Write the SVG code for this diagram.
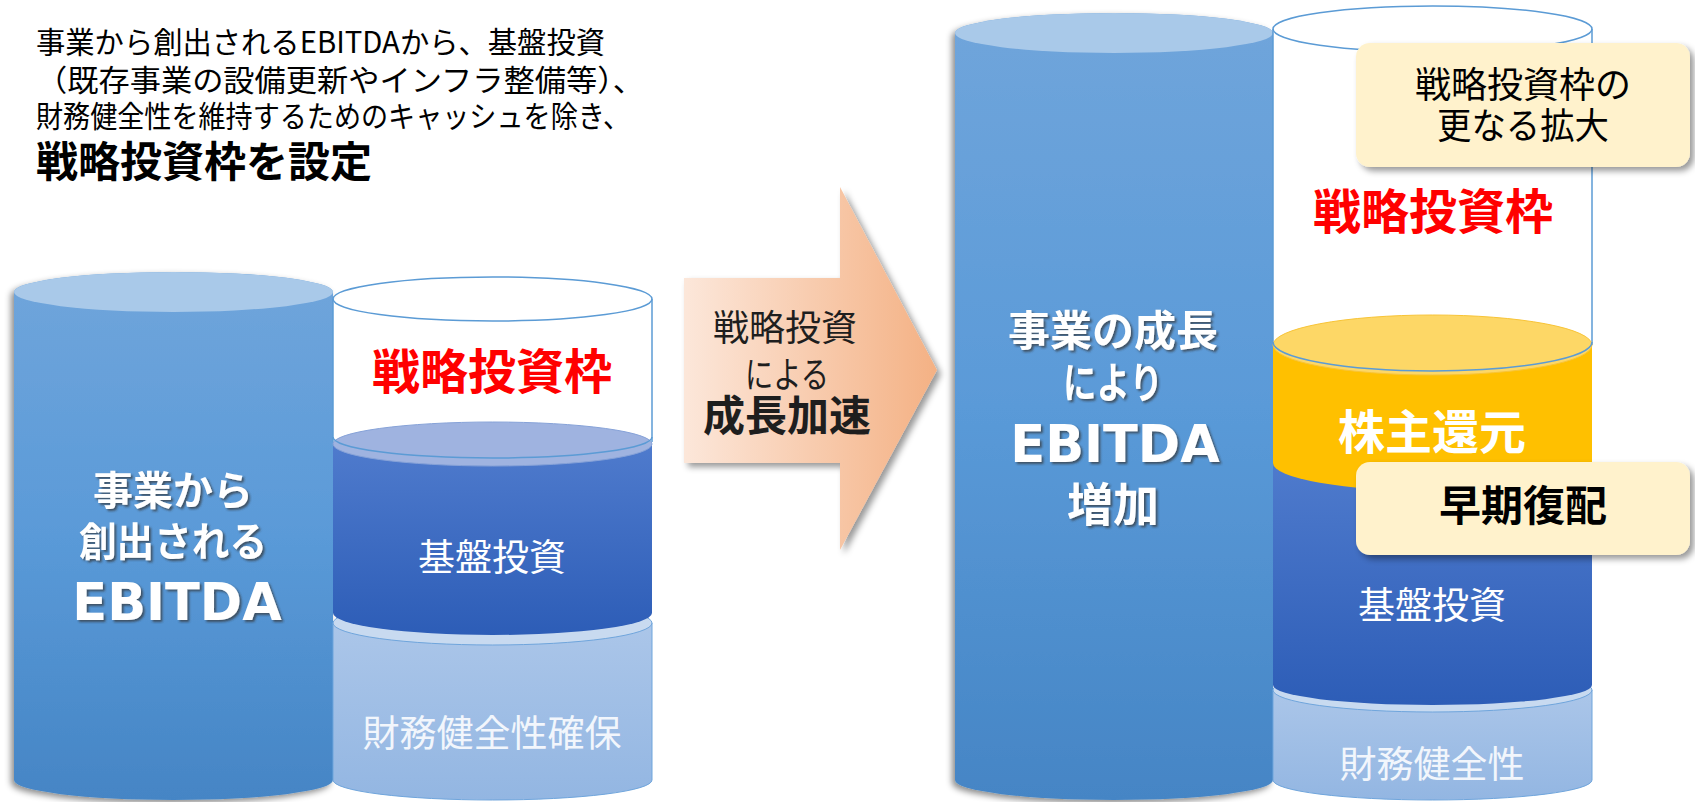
<svg xmlns="http://www.w3.org/2000/svg" width="1695" height="802" viewBox="0 0 1695 802">
<defs>
<style>
.jp{font-family:"Noto Sans CJK JP","Noto Sans",sans-serif;}
.b{font-weight:bold;}
.lat{font-family:"DejaVu Sans","Liberation Sans",sans-serif;font-weight:bold;}
.wl{fill:#ffffff;}
.red{fill:#ff0000;}
.blk{fill:#000000;}
.soft{fill:#f2f6fc;}
.outline{fill:none;stroke:#5b9bd5;stroke-width:1.5;}
</style>
<linearGradient id="gBig" x1="0" y1="0" x2="0" y2="1">
<stop offset="0" stop-color="#70a5db"/>
<stop offset="0.5" stop-color="#5a9ad8"/>
<stop offset="1" stop-color="#4585c5"/>
</linearGradient>
<linearGradient id="gDark" x1="0" y1="0" x2="0" y2="1">
<stop offset="0" stop-color="#4f7bcd"/>
<stop offset="1" stop-color="#2d5db7"/>
</linearGradient>
<linearGradient id="gLight" x1="0" y1="0" x2="0" y2="1">
<stop offset="0" stop-color="#abc6e9"/>
<stop offset="1" stop-color="#93b6e2"/>
</linearGradient>
<linearGradient id="gArrow" x1="0" y1="0" x2="1" y2="0">
<stop offset="0" stop-color="#fce7da"/>
<stop offset="1" stop-color="#f4b184"/>
</linearGradient>
<filter id="shCyl" x="-10%" y="-10%" width="120%" height="120%">
<feDropShadow dx="-3" dy="3" stdDeviation="3" flood-color="#000" flood-opacity="0.45"/>
</filter>
<filter id="shBR" x="-10%" y="-10%" width="125%" height="130%">
<feDropShadow dx="4" dy="4" stdDeviation="3" flood-color="#000" flood-opacity="0.4"/>
</filter>
<filter id="shTxt" x="-10%" y="-20%" width="120%" height="150%">
<feDropShadow dx="2" dy="2" stdDeviation="1.2" flood-color="#303030" flood-opacity="0.7"/>
</filter>
</defs>
<rect width="1695" height="802" fill="#ffffff"/>

<g id="title" class="jp blk">
<text x="36" y="53" font-size="30" textLength="569" lengthAdjust="spacingAndGlyphs">事業から創出されるEBITDAから、基盤投資</text>
<text x="36" y="91" font-size="30" textLength="608" lengthAdjust="spacingAndGlyphs">（既存事業の設備更新やインフラ整備等）、</text>
<text x="36" y="127" font-size="30" textLength="594" lengthAdjust="spacingAndGlyphs">財務健全性を維持するためのキャッシュを除き、</text>
<text x="36" y="177" font-size="42" class="b">戦略投資枠を設定</text>
</g>

<g id="left-ebitda">
<g filter="url(#shCyl)">
<path d="M14,292 L14,780 A159.5,20 0 0 0 333,780 L333,292 A159.5,20 0 0 0 14,292 Z" fill="url(#gBig)"/>
</g>
<ellipse cx="173.5" cy="292" rx="159.5" ry="20" fill="#a9c9e9"/>
<g class="jp b wl" text-anchor="middle" filter="url(#shTxt)">
<text x="173" y="505" font-size="40">事業から</text>
<text x="173" y="556" font-size="40" textLength="188" lengthAdjust="spacingAndGlyphs">創出される</text>
<text x="177" y="620" font-size="51" class="lat">EBITDA</text>
</g>
</g>

<g id="left-stack">
<path d="M333,299 L333,442 A159.5,22 0 0 0 652,442 L652,299 Z" fill="#ffffff"/>
<line x1="333" y1="299" x2="333" y2="442" class="outline"/>
<line x1="652" y1="299" x2="652" y2="442" class="outline"/>
<ellipse cx="492.5" cy="299" rx="159.5" ry="22" class="outline" fill="#ffffff"/>
<path d="M333,623 L333,780 A159.5,20 0 0 0 652,780 L652,623 Z" fill="url(#gLight)" stroke="#6fa5dc" stroke-width="1"/>
<ellipse cx="492.5" cy="623" rx="159.5" ry="22" fill="#c8daf0" stroke="#6fa5dc" stroke-width="1"/>
<path d="M333,444 L333,613 A159.5,22 0 0 0 652,613 L652,444 Z" fill="url(#gDark)"/>
<ellipse cx="492.5" cy="444" rx="159.5" ry="22" fill="#9fb3e0" stroke="#86a2d8" stroke-width="1"/>
<path d="M333,437 A159.5,21 0 0 0 652,437" class="outline" stroke-width="1.2"/>
<text x="492" y="389" font-size="48" class="jp b red" text-anchor="middle">戦略投資枠</text>
<text x="492" y="571" font-size="37" class="jp wl" text-anchor="middle">基盤投資</text>
<text x="492" y="747" font-size="37" class="jp soft" text-anchor="middle">財務健全性確保</text>
</g>

<g id="arrow">
<polygon points="684,278 840,278 840,187 937,370 840,550 840,463 684,463" fill="url(#gArrow)" filter="url(#shBR)"/>
<g class="jp" text-anchor="middle" fill="#1e1e1e">
<text x="785" y="341" font-size="36">戦略投資</text>
<text x="787" y="388" font-size="36" textLength="84" lengthAdjust="spacingAndGlyphs">による</text>
<text x="787" y="431" font-size="42" class="b">成長加速</text>
</g>
</g>

<g id="right-ebitda">
<g filter="url(#shCyl)">
<path d="M955,33 L955,780 A159,20 0 0 0 1273,780 L1273,33 A159,20 0 0 0 955,33 Z" fill="url(#gBig)"/>
</g>
<ellipse cx="1114" cy="33" rx="159" ry="20" fill="#a9c9e9"/>
<g class="jp b wl" text-anchor="middle" filter="url(#shTxt)">
<text x="1113" y="346" font-size="42">事業の成長</text>
<text x="1113" y="398" font-size="42" textLength="100" lengthAdjust="spacingAndGlyphs">により</text>
<text x="1115" y="462" font-size="51" class="lat">EBITDA</text>
<text x="1113" y="521" font-size="46">増加</text>
</g>
</g>

<g id="right-stack">
<path d="M1273,29 L1273,345 L1592,345 L1592,29 Z" fill="#ffffff"/>
<line x1="1273" y1="29" x2="1273" y2="345" class="outline"/>
<line x1="1592" y1="29" x2="1592" y2="345" class="outline"/>
<ellipse cx="1432.5" cy="29" rx="159.5" ry="23" class="outline" fill="#ffffff"/>
<path d="M1273,690 L1273,780 A159.5,20 0 0 0 1592,780 L1592,690 Z" fill="url(#gLight)" stroke="#6fa5dc" stroke-width="1"/>
<ellipse cx="1432.5" cy="690" rx="159.5" ry="22" fill="#c8daf0" stroke="#6fa5dc" stroke-width="1"/>
<path d="M1273,460 L1273,685 A159.5,20 0 0 0 1592,685 L1592,460 Z" fill="url(#gDark)"/>
<ellipse cx="1432.5" cy="460" rx="159.5" ry="26" fill="#93abdd"/>
<path d="M1273,345 L1273,463 A159.5,28 0 0 0 1592,463 L1592,345 Z" fill="#ffc000"/>
<ellipse cx="1432.5" cy="345" rx="159.5" ry="30" fill="#fdd766" stroke="#f8c437" stroke-width="1"/>
<path d="M1273,342 A159.5,29 0 0 0 1592,342" class="outline" stroke-width="1.2"/>
<text x="1433" y="229" font-size="48" class="jp b red" text-anchor="middle">戦略投資枠</text>
<text x="1432" y="449" font-size="47" class="jp b wl" text-anchor="middle">株主還元</text>
<text x="1432" y="619" font-size="37" class="jp wl" text-anchor="middle">基盤投資</text>
<text x="1432" y="778" font-size="37" class="jp soft" text-anchor="middle">財務健全性</text>
</g>

<g id="callout-expand">
<rect x="1356" y="43" width="334" height="124" rx="14" fill="#fff2cc" filter="url(#shBR)"/>
<g class="jp blk" text-anchor="middle" fill="#111">
<text x="1523" y="98" font-size="36">戦略投資枠の</text>
<text x="1523" y="139" font-size="36" textLength="172" lengthAdjust="spacingAndGlyphs">更なる拡大</text>
</g>
</g>

<g id="callout-dividend">
<rect x="1356" y="462" width="334" height="93" rx="14" fill="#fff2cc" filter="url(#shBR)"/>
<text x="1523" y="521" font-size="42" class="jp b blk" text-anchor="middle">早期復配</text>
</g>
</svg>
